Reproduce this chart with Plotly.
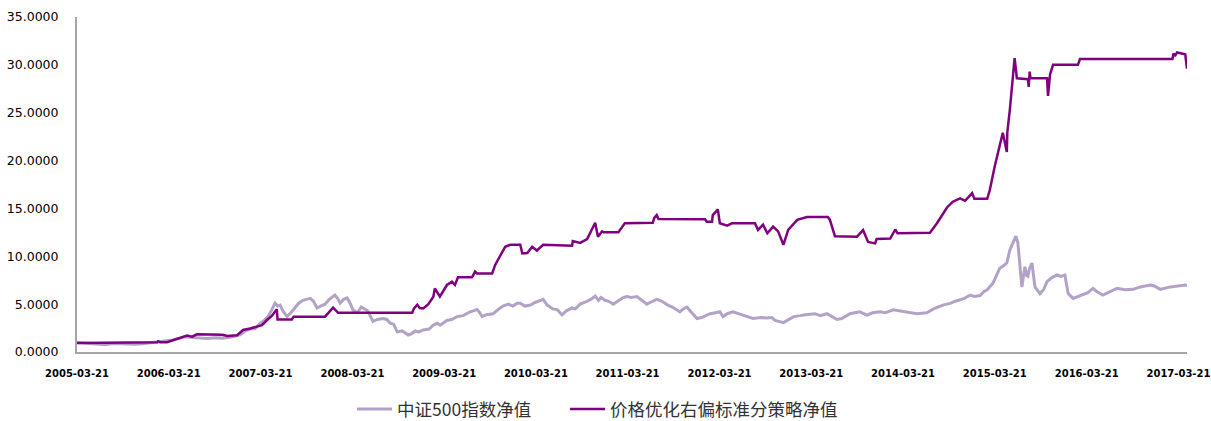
import plotly.graph_objects as go

# 中证500指数净值
index_dates = [
    "2005-03-21", "2005-04-15", "2005-05-12", "2005-06-05", "2005-07-11", "2005-08-10",
    "2005-09-09", "2005-10-10", "2005-11-08", "2005-12-08", "2006-01-06", "2006-02-05",
    "2006-03-06", "2006-04-05", "2006-05-05", "2006-05-25", "2006-06-14", "2006-07-05",
    "2006-07-23", "2006-08-20", "2006-09-22", "2006-10-20", "2006-11-21", "2006-12-10",
    "2006-12-30", "2007-01-20", "2007-02-08", "2007-02-28", "2007-03-19", "2007-04-05",
    "2007-04-20", "2007-05-05", "2007-05-18", "2007-05-28", "2007-06-07", "2007-06-20",
    "2007-07-05", "2007-07-20", "2007-08-06", "2007-08-20", "2007-09-06", "2007-09-20",
    "2007-10-05", "2007-10-18", "2007-11-01", "2007-11-15", "2007-12-03", "2007-12-20",
    "2008-01-11", "2008-01-22", "2008-02-01", "2008-02-15", "2008-02-29", "2008-03-10",
    "2008-03-23", "2008-04-10", "2008-04-25", "2008-05-02", "2008-05-20", "2008-06-11",
    "2008-06-28", "2008-07-21", "2008-08-05", "2008-08-18", "2008-09-01", "2008-09-15",
    "2008-10-05", "2008-10-29", "2008-11-10", "2008-11-26", "2008-12-10", "2008-12-28",
    "2009-01-20", "2009-02-05", "2009-02-22", "2009-03-05", "2009-04-01", "2009-04-20",
    "2009-05-11", "2009-06-05", "2009-07-02", "2009-07-15", "2009-07-30", "2009-08-10",
    "2009-08-19", "2009-09-05", "2009-10-02", "2009-10-20", "2009-11-10", "2009-12-01",
    "2009-12-20", "2010-01-05", "2010-01-18", "2010-02-05", "2010-02-27", "2010-03-20",
    "2010-04-05", "2010-04-19", "2010-05-05", "2010-05-28", "2010-06-15", "2010-07-03",
    "2010-07-20", "2010-08-12", "2010-08-25", "2010-09-13", "2010-10-10", "2010-10-25",
    "2010-11-12", "2010-11-25", "2010-12-05", "2010-12-21", "2011-01-05", "2011-01-23",
    "2011-02-15", "2011-03-05", "2011-03-18", "2011-04-05", "2011-04-27", "2011-05-15",
    "2011-06-06", "2011-06-20", "2011-07-15", "2011-08-05", "2011-08-28", "2011-09-15",
    "2011-10-15", "2011-10-28", "2011-11-12", "2011-11-28", "2011-12-22", "2012-01-10",
    "2012-02-12", "2012-03-05", "2012-03-22", "2012-04-04", "2012-04-20", "2012-05-13",
    "2012-06-05", "2012-06-30", "2012-07-15", "2012-08-01", "2012-09-01", "2012-09-27",
    "2012-10-15", "2012-10-28", "2012-11-30", "2012-12-20", "2013-01-10", "2013-02-05",
    "2013-02-25", "2013-04-05", "2013-04-25", "2013-05-22", "2013-06-05", "2013-07-01",
    "2013-07-20", "2013-08-22", "2013-09-10", "2013-09-30", "2013-10-29", "2013-11-20",
    "2013-12-20", "2014-01-10", "2014-02-10", "2014-03-10", "2014-04-06", "2014-05-15",
    "2014-06-24", "2014-07-20", "2014-08-27", "2014-09-24", "2014-10-15", "2014-11-03",
    "2014-11-20", "2014-12-13", "2014-12-30", "2015-01-22", "2015-02-05", "2015-02-19",
    "2015-03-14", "2015-03-28", "2015-04-10", "2015-04-25", "2015-05-08", "2015-05-20",
    "2015-06-05", "2015-06-13", "2015-06-21", "2015-06-30", "2015-07-07", "2015-07-19",
    "2015-07-25", "2015-07-31", "2015-08-05", "2015-08-16", "2015-08-22", "2015-08-28",
    "2015-09-17", "2015-10-01", "2015-10-15", "2015-11-05", "2015-11-24", "2015-12-10",
    "2015-12-25", "2016-01-07", "2016-01-27", "2016-02-15", "2016-03-06", "2016-03-25",
    "2016-04-15", "2016-05-01", "2016-05-24", "2016-06-20", "2016-07-20", "2016-08-20",
    "2016-09-22", "2016-10-20", "2016-11-29", "2016-12-15", "2017-01-08", "2017-02-17",
    "2017-03-20", "2017-04-17", "2017-04-24",
]
index_values = [
    1.00, 0.95, 0.90, 0.80, 0.75, 0.88,
    0.85, 0.80, 0.80, 0.85, 0.95, 1.05,
    1.10, 1.25, 1.45, 1.60, 1.55, 1.50,
    1.45, 1.40, 1.50, 1.45, 1.55, 1.65,
    1.80, 2.20, 2.40, 2.45, 3.00, 3.30,
    3.70, 4.40, 5.10, 4.80, 4.90, 4.20,
    3.70, 4.10, 4.60, 5.10, 5.40, 5.50,
    5.60, 5.30, 4.60, 4.80, 5.00, 5.50,
    5.95, 5.60, 5.10, 5.50, 5.65, 5.20,
    4.40, 4.10, 4.70, 4.60, 4.30, 3.20,
    3.40, 3.50, 3.40, 3.00, 2.90, 2.10,
    2.20, 1.78, 1.90, 2.20, 2.10, 2.30,
    2.40, 2.80, 3.00, 2.80, 3.30, 3.40,
    3.70, 3.80, 4.20, 4.30, 4.45, 4.10,
    3.70, 3.90, 4.00, 4.40, 4.80, 5.00,
    4.80, 5.10, 5.10, 4.80, 4.90, 5.20,
    5.40, 5.50, 4.90, 4.50, 4.40, 3.87,
    4.30, 4.60, 4.50, 5.00, 5.30, 5.50,
    5.85, 5.40, 5.70, 5.40, 5.30, 5.00,
    5.40, 5.70, 5.80, 5.70, 5.80, 5.40,
    5.00, 5.20, 5.50, 5.30, 4.90, 4.70,
    4.20, 4.50, 4.70, 4.20, 3.50, 3.60,
    4.00, 4.10, 4.20, 3.70, 4.00, 4.20,
    4.00, 3.80, 3.70, 3.50, 3.60, 3.55,
    3.60, 3.30, 3.07, 3.40, 3.70, 3.80,
    3.90, 4.00, 3.80, 4.00, 3.80, 3.40,
    3.50, 4.00, 4.10, 4.20, 3.85, 4.10,
    4.20, 4.10, 4.40, 4.30, 4.20, 4.00,
    4.10, 4.50, 4.90, 5.08, 5.30, 5.45,
    5.60, 5.95, 5.80, 5.90, 6.30, 6.50,
    7.20, 8.00, 8.75, 9.00, 9.30, 10.65,
    11.50, 12.10, 11.40, 9.00, 6.80, 8.90,
    8.00, 7.90, 8.60, 9.30, 8.00, 6.80,
    6.10, 6.50, 7.35, 7.80, 8.05, 7.90,
    8.05, 6.10, 5.60, 5.80, 5.95, 6.20,
    6.65, 6.30, 5.95, 6.30, 6.65, 6.50,
    6.55, 6.80, 7.00, 6.90, 6.55, 6.80,
    6.90, 7.00, 6.90,
]

# 价格优化右偏标准分策略净值
strategy_dates = [
    "2005-03-21", "2005-08-12", "2005-08-20", "2006-02-03", "2006-02-07", "2006-02-15",
    "2006-03-14", "2006-05-05", "2006-06-02", "2006-06-22", "2006-07-11", "2006-10-20",
    "2006-11-09", "2006-12-18", "2007-01-11", "2007-02-08", "2007-03-07", "2007-03-27",
    "2007-04-16", "2007-05-06", "2007-05-25", "2007-05-28", "2007-07-24", "2007-07-31",
    "2007-12-03", "2007-12-19", "2008-01-04", "2008-01-24", "2008-11-14", "2008-11-21",
    "2008-12-04", "2008-12-14", "2008-12-28", "2009-01-17", "2009-02-06", "2009-02-12",
    "2009-03-04", "2009-04-01", "2009-04-21", "2009-05-03", "2009-05-15", "2009-07-10",
    "2009-07-22", "2009-07-30", "2009-09-28", "2009-10-10", "2009-10-30", "2009-11-19",
    "2009-12-09", "2010-01-18", "2010-01-26", "2010-02-15", "2010-03-06", "2010-03-25",
    "2010-04-19", "2010-08-12", "2010-08-15", "2010-09-13", "2010-10-11", "2010-10-23",
    "2010-11-12", "2010-11-23", "2010-12-09", "2010-12-16", "2011-02-12", "2011-03-10",
    "2011-06-29", "2011-07-05", "2011-07-15", "2011-07-22", "2012-01-23", "2012-01-30",
    "2012-02-20", "2012-02-23", "2012-03-14", "2012-03-22", "2012-04-20", "2012-05-09",
    "2012-08-09", "2012-08-21", "2012-09-10", "2012-09-27", "2012-10-20", "2012-11-09",
    "2012-11-30", "2012-12-19", "2013-01-24", "2013-03-04", "2013-05-26", "2013-06-03",
    "2013-06-23", "2013-09-19", "2013-10-13", "2013-11-02", "2013-11-30", "2013-12-06",
    "2014-01-29", "2014-02-18", "2014-02-27", "2014-07-06", "2014-08-03", "2014-09-12",
    "2014-10-05", "2014-11-03", "2014-11-23", "2014-12-21", "2014-12-30", "2015-02-19",
    "2015-03-01", "2015-03-21", "2015-04-10", "2015-04-22", "2015-05-08", "2015-05-10",
    "2015-05-20", "2015-05-27", "2015-06-08", "2015-06-17", "2015-07-31", "2015-08-03",
    "2015-08-07", "2015-08-10", "2015-10-15", "2015-10-19", "2015-10-27", "2015-11-08",
    "2016-02-15", "2016-02-23", "2017-02-25", "2017-03-01", "2017-03-07", "2017-03-15",
    "2017-04-17", "2017-04-24",
]
strategy_values = [
    0.95, 0.95, 1.02, 1.02, 1.12, 1.02,
    1.02, 1.43, 1.71, 1.60, 1.85, 1.80,
    1.68, 1.75, 2.30, 2.45, 2.65, 2.80,
    3.34, 3.80, 4.46, 3.40, 3.40, 3.69,
    3.69, 4.20, 4.63, 4.10, 4.10, 4.56,
    4.95, 4.60, 4.56, 5.00, 5.78, 6.65,
    5.78, 7.00, 7.35, 7.00, 7.80, 7.80,
    8.40, 8.20, 8.20, 9.10, 10.10, 11.00,
    11.20, 11.20, 10.30, 10.35, 11.00, 10.60,
    11.20, 11.10, 11.60, 11.40, 11.80, 12.40,
    13.50, 12.05, 12.60, 12.50, 12.50, 13.45,
    13.50, 14.00, 14.30, 13.90, 13.86, 13.60,
    13.60, 14.30, 14.90, 13.45, 13.20, 13.45,
    13.45, 12.75, 13.30, 12.40, 13.10, 12.60,
    11.20, 12.75, 13.80, 14.10, 14.10, 13.80,
    12.10, 12.05, 12.75, 11.50, 11.35, 11.80,
    11.85, 12.80, 12.40, 12.47, 13.45, 15.10,
    15.70, 16.05, 15.80, 16.60, 16.00, 16.00,
    16.90, 19.40, 21.50, 22.90, 20.90, 22.95,
    25.30, 27.40, 30.70, 28.60, 28.50, 27.70,
    29.30, 28.60, 28.60, 26.75, 29.00, 30.00,
    30.00, 30.60, 30.60, 31.20, 30.90, 31.30,
    31.10, 29.60,
]

tick_dates = ["%d-03-21" % y for y in range(2005, 2018)]

legend_font = dict(family="Noto Sans CJK SC", size=17.5, color="#333333")

fig = go.Figure()
fig.add_trace(go.Scatter(x=index_dates, y=index_values, mode="lines",
                         name="中证500指数净值", legend="legend",
                         line=dict(color="#B3A2C7", width=3)))
fig.add_trace(go.Scatter(x=strategy_dates, y=strategy_values, mode="lines",
                         name="价格优化右偏标准分策略净值", legend="legend2",
                         line=dict(color="#7F007F", width=2.5)))

fig.update_layout(
    width=1211, height=421,
    margin=dict(l=77, r=24, t=17, b=69),
    plot_bgcolor="white", paper_bgcolor="white",
    font=dict(family="DejaVu Sans", color="#000000"),
    legend=dict(orientation="h", xref="container", yref="container",
                x=352 / 1211, xanchor="left", y=12 / 421, yanchor="middle",
                font=legend_font, itemwidth=35),
    legend2=dict(orientation="h", xref="container", yref="container",
                 x=565 / 1211, xanchor="left", y=12 / 421, yanchor="middle",
                 font=legend_font, itemwidth=35),
    showlegend=True,
)
fig.update_xaxes(
    type="date", range=["2005-03-21", "2017-04-24"],
    tickvals=tick_dates, ticktext=tick_dates,
    tickfont=dict(family="DejaVu Sans", size=10, weight="bold"),
    showgrid=False, zeroline=False, automargin=False,
    showline=True, linecolor="#A6A6A6", linewidth=2,
    ticks="", ticklabelstandoff=11,
)
fig.update_yaxes(
    range=[0, 35], dtick=5, tickformat=".4f",
    tickfont=dict(family="DejaVu Sans", size=12.5),
    showgrid=False, zeroline=False, automargin=False,
    showline=True, linecolor="#A6A6A6", linewidth=2,
    ticks="", ticklabelstandoff=14,
)

# the page body has a default 8px margin; drop it so the figure fills the window
fig.write_html("out.html", config={"displayModeBar": False},
               post_script="document.body.style.margin = '0px';")
